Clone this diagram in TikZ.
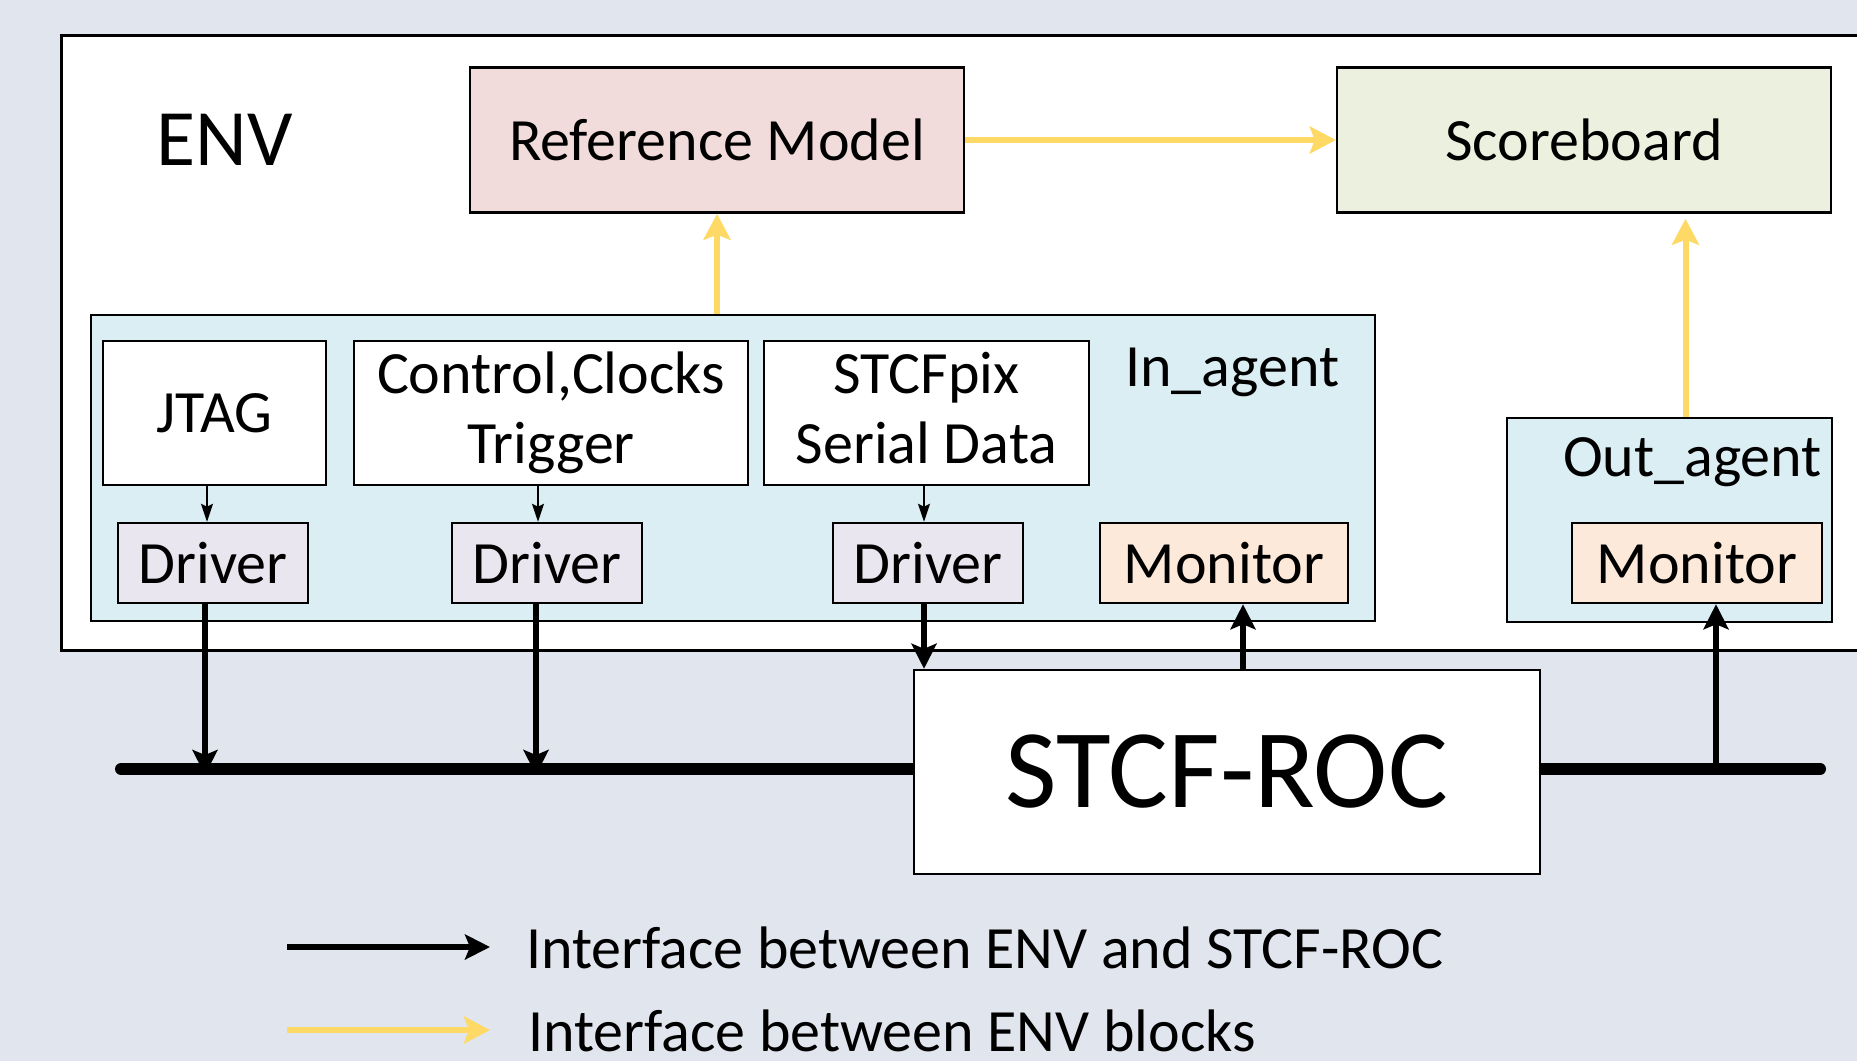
\documentclass[tikz,border=0pt]{standalone}
\usepackage{fontspec}
\setmainfont{Carlito}
\usetikzlibrary{arrows.meta, positioning}
\usepackage{xcolor}

\definecolor{bgblue}{HTML}{E1E5EE}
\definecolor{agentblue}{HTML}{DAEEF3}
\definecolor{refred}{HTML}{F2DCDB}
\definecolor{scoregreen}{HTML}{EBF1DE}
\definecolor{drvpurple}{HTML}{EAE6EF}
\definecolor{monorange}{HTML}{FCE9DA}
\definecolor{ifyellow}{HTML}{FFD966}

\begin{document}
\begin{tikzpicture}[x=1pt, y=-1pt,
  blk/.style={draw, line width=2.5pt, inner sep=0pt, align=center, font=\fontsize{60}{70}\selectfont},
  drvbox/.style={blk, fill=drvpurple, minimum width=190pt, minimum height=80pt},
  monbox/.style={blk, fill=monorange, minimum height=80pt},
  agentbox/.style={draw, line width=2.5pt, fill=agentblue},
  lbl/.style={inner sep=0pt, font=\fontsize{60}{70}\selectfont},
  envarrow/.style={line width=6pt, -{Stealth[length=25pt, width=25pt, inset=5pt]}},
  thinarrow/.style={line width=1.5pt, -{Stealth[length=18pt, width=12pt, inset=3pt]}},
  ifarrow/.style={draw=ifyellow, line width=6pt, -{Stealth[length=26pt, width=27pt, inset=5pt]}}]

  \fill[bgblue] (0,0) rectangle (1857,1061);
  \useasboundingbox (0,0) rectangle (1857,1061);
  \clip (0,0) rectangle (1857,1061);

  \draw[line width=3pt, fill=white] (61,35) rectangle (1900,650);
  \node[inner sep=0pt, font=\fontsize{80}{90}\selectfont] (envlbl) at (225,140) {ENV};

  \node[blk, fill=refred, minimum width=494pt, minimum height=145pt] (rm) at (717,140) {Reference Model};
  \node[blk, fill=scoregreen, minimum width=494pt, minimum height=145pt] (sb) at (1584,140) {Scoreboard};

  \node[agentbox, minimum width=1284pt, minimum height=306pt] (inag) at (733,468) {};
  \node[lbl, anchor=base west] (inlbl) at (1125,386) {In\_agent};
  \node[agentbox, minimum width=325pt, minimum height=204pt] (outag) at (1669.5,520) {};
  \node[lbl, anchor=base west] (outlbl) at (1563,476) {Out\_agent};

  \node[blk, fill=white, minimum width=223pt, minimum height=144pt] (jtag) at (214.5,413) {JTAG};
  \node[blk, fill=white, minimum width=394pt, minimum height=144pt, text depth=10pt] (ctrl) at (551,413) {Control,Clocks\\Trigger};
  \node[blk, fill=white, minimum width=325pt, minimum height=144pt, text depth=10pt] (pix) at (926.5,413) {STCFpix\\Serial Data};

  \foreach \n/\x in {drv1/213, drv2/547, drv3/928}
    \node[drvbox] (\n) at (\x,563) {Driver};
  \node[monbox, minimum width=248pt] (mon1) at (1224,563) {Monitor};
  \node[monbox, minimum width=250pt] (mon2) at (1697,563) {Monitor};

  \draw[thinarrow] ([xshift=-6pt]drv1.north |- jtag.south) -- ([xshift=-6pt]drv1.north);
  \draw[thinarrow] ([xshift=-9pt]drv2.north |- ctrl.south) -- ([xshift=-9pt]drv2.north);
  \draw[thinarrow] ([xshift=-4pt]drv3.north |- pix.south) -- ([xshift=-4pt]drv3.north);

  \draw[ifarrow] (rm.east) -- (sb.west);
  \draw[ifarrow] (rm.south |- inag.north) -- (rm.south);
  \draw[ifarrow] ([xshift=16pt]outag.north) -- ([xshift=16pt, yshift=-5pt]outag.north |- sb.south);

  \coordinate (busL) at (121,769);
  \coordinate (busR) at (1820,769);
  \draw[line width=12pt, line cap=round] (busL) -- (busR);

  \node[draw, line width=2.5pt, fill=white, minimum width=626pt, minimum height=204pt,
    inner sep=0pt, font=\fontsize{112}{120}\selectfont] (roc) at (1227,772) {STCF-ROC};

  \draw[envarrow] ([xshift=-8pt]drv1.south) -- ([xshift=-8pt, yshift=-6pt]drv1.south |- busL);
  \draw[envarrow] ([xshift=-11pt]drv2.south) -- ([xshift=-11pt, yshift=-6pt]drv2.south |- busL);
  \draw[envarrow] ([xshift=-4pt]drv3.south) -- ([xshift=-4pt]drv3.south |- roc.north);
  \draw[envarrow] ([xshift=19pt]mon1.south |- roc.north) -- ([xshift=19pt]mon1.south);
  \draw[envarrow] ([xshift=19pt]mon2.south |- busR) -- ([xshift=19pt]mon2.south);

  \coordinate (lgA) at (287,947);
  \coordinate (lgB) at (490,947);
  \coordinate (lgC) at (287,1030);
  \coordinate (lgD) at (490,1030);
  \draw[envarrow] (lgA) -- (lgB);
  \draw[ifarrow] (lgC) -- (lgD);
  \node[lbl, anchor=base west] (lg1) at (526,968) {Interface between ENV and STCF-ROC};
  \node[lbl, anchor=base west] (lg2) at (528,1051) {Interface between ENV blocks};
\end{tikzpicture}
\end{document}
